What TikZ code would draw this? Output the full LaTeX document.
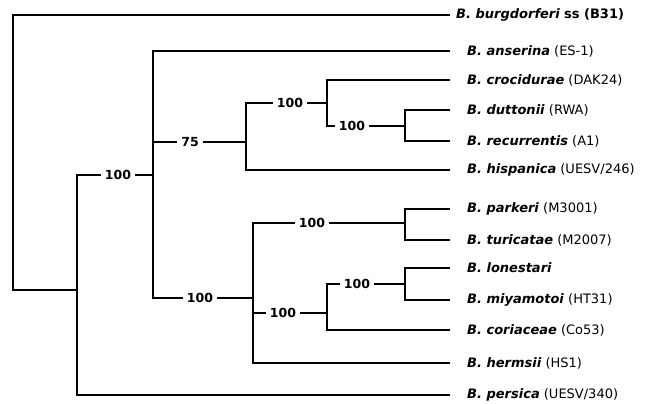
\documentclass[tikz,border=0pt]{standalone}
\usepackage{fontspec}
\setmainfont{DejaVu Sans}
\begin{document}
\begin{tikzpicture}[x=1pt,y=-1pt,
  br/.style={line width=2pt},
  taxon/.style={anchor=west, inner sep=0pt, font=\fontsize{13}{15}\selectfont},
  bs/.style={fill=white, inner xsep=4pt, inner ysep=1pt, font=\bfseries\fontsize{12.5}{14}\selectfont}]
\useasboundingbox (0,0) rectangle (654,404);
% leaf ends
\foreach \n/\y in {burg/15,ans/51,cro/80,dut/110,rec/141,his/170,par/209,tur/240,lon/268,miy/300,cor/330,her/363,per/395}
  \coordinate (e-\n) at (450,\y);
% internal nodes
\coordinate (root) at (13,152);
\coordinate (n1) at (77,290);
\coordinate (n2) at (153,175);
\coordinate (n3) at (246,142);
\coordinate (n4) at (253,298);
\coordinate (n5) at (327,103);
\coordinate (n6) at (405,126);
\coordinate (n7) at (405,223);
\coordinate (n8) at (327,313);
\coordinate (n9) at (405,284);
% branches
\draw[br] (root) |- (e-burg);
\draw[br] (root) |- (n1);
\draw[br] (n1) |- (n2);
\draw[br] (n1) |- (e-per);
\draw[br] (n2) |- (e-ans);
\draw[br] (n2) |- (n3);
\draw[br] (n2) |- (n4);
\draw[br] (n3) |- (n5);
\draw[br] (n3) |- (e-his);
\draw[br] (n5) |- (e-cro);
\draw[br] (n5) |- (n6);
\draw[br] (n6) |- (e-dut);
\draw[br] (n6) |- (e-rec);
\draw[br] (n4) |- (n7);
\draw[br] (n4) |- (n8);
\draw[br] (n4) |- (e-her);
\draw[br] (n7) |- (e-par);
\draw[br] (n7) |- (e-tur);
\draw[br] (n8) |- (n9);
\draw[br] (n8) |- (e-cor);
\draw[br] (n9) |- (e-lon);
\draw[br] (n9) |- (e-miy);
% bootstrap values
\node[bs] (b1) at (118,175) {100};
\node[bs] (b2) at (190,142) {75};
\node[bs] (b3) at (200,298) {100};
\node[bs] (b4) at (290,103) {100};
\node[bs] (b5) at (352,126) {100};
\node[bs] (b6) at (312,223) {100};
\node[bs] (b7) at (283,313) {100};
\node[bs] (b8) at (357,284) {100};
% taxa
\node[taxon] (t-burg) at (456,15) {\textbf{\textit{B. burgdorferi}} \textbf{ss (B31)}};
\node[taxon] (t-ans) at (467,51) {\textbf{\textit{B. anserina}} (ES-1)};
\node[taxon] (t-cro) at (467,80) {\textbf{\textit{B. crocidurae}} (DAK24)};
\node[taxon] (t-dut) at (467,110) {\textbf{\textit{B. duttonii}} (RWA)};
\node[taxon] (t-rec) at (467,141) {\textbf{\textit{B. recurrentis}} (A1)};
\node[taxon] (t-his) at (467,170) {\textbf{\textit{B. hispanica}} (UESV/246)};
\node[taxon] (t-par) at (467,209) {\textbf{\textit{B. parkeri}} (M3001)};
\node[taxon] (t-tur) at (467,240) {\textbf{\textit{B. turicatae}} (M2007)};
\node[taxon] (t-lon) at (467,268) {\textbf{\textit{B. lonestari}}};
\node[taxon] (t-miy) at (467,300) {\textbf{\textit{B. miyamotoi}} (HT31)};
\node[taxon] (t-cor) at (467,330) {\textbf{\textit{B. coriaceae}} (Co53)};
\node[taxon] (t-her) at (467,363) {\textbf{\textit{B. hermsii}} (HS1)};
\node[taxon] (t-per) at (467,395) {\textbf{\textit{B. persica}} (UESV/340)};
\end{tikzpicture}
\end{document}
